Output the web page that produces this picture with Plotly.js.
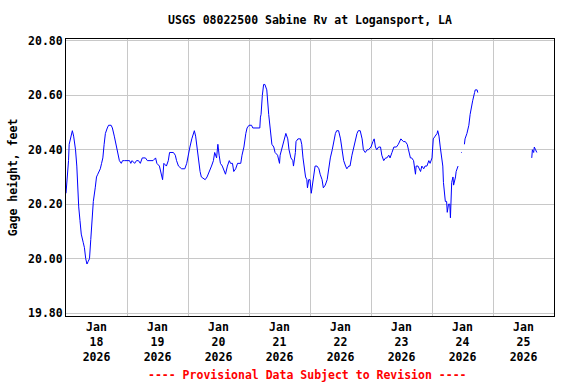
<!DOCTYPE html>
<html>
<head>
<meta charset="utf-8">
<script src="https://cdn.plot.ly/plotly-3.0.1.min.js"></script>
<style>
  html, body { margin: 0; padding: 0; background: #fff; }
  #chart { width: 576px; height: 384px; }
</style>
</head>
<body>
<div id="chart"></div>
<script>
// Start of record: 2026-01-18 00:00 (local)
const startTime = "2026-01-18T00:00:00";

// Hours after start time
const hours = [
  0, 0.5, 1, 1.25, 2, 2.5, 3, 3.75, 4.25, 4.5, 5, 5.5, 6, 6.75, 7.25, 7.75, 8.25, 8.75, 9.25, 9.75,
  10.25, 10.75, 11.5, 12, 12.5, 13, 13.5, 14, 14.5, 15, 15.5, 16.25, 16.75, 17.75, 18.25, 19, 19.75, 20.25, 21, 21.75,
  22.25, 23, 23.75, 25, 25.5, 26, 27, 27.75, 28.5, 29.25, 30, 31.25, 32, 33.25, 34.25, 35.25, 35.75, 36.75, 37.25, 38,
  38.5, 39.5, 40.25, 40.75, 42.25, 43, 43.5, 44.25, 45.5, 46.75, 47.5, 48, 48.75, 49.5, 50, 50.5, 51, 51.5, 52, 52.75,
  53.25, 54.75, 55.5, 56.5, 57.25, 58, 58.5, 59.25, 59.75, 60.25, 60.75, 61.5, 62.25, 62.75, 63.5, 64.25, 64.75, 65.5, 66, 66.75,
  67.5, 68.75, 69.25, 70, 70.75, 71.25, 72, 73, 73.5, 74.25, 75, 76.25, 76.5, 76.75, 77.25, 77.75, 78.25, 78.5, 79, 79.75,
  80.5, 81, 81.75, 82.25, 83.25, 84, 84.25, 85, 86, 86.5, 87.25, 87.75, 88.5, 89.25, 89.5, 90.25, 90.5, 91.25, 92.25, 92.75,
  93.25, 93.75, 94.25, 94.75, 95, 95.5, 96, 96.5, 97, 97.5, 98, 98.75, 99.5, 100, 100.75, 101.25, 102, 102.75, 103.25, 104,
  104.75, 105.25, 106, 106.5, 107.25, 108, 108.5, 109.25, 110, 110.5, 111.25, 111.75, 112.5, 113.25, 113.75, 114.5, 115, 115.75, 116.5, 117,
  117.75, 118.5, 119, 120, 120.75, 121.25, 121.75, 122.25, 123, 123.75, 124.25, 125, 125.75, 126.25, 127, 127.5, 128.25, 129, 130, 130.75,
  131.75, 132.75, 133.5, 134.25, 134.75, 135.5, 136, 136.75, 137.5, 137.75, 138.5, 139.5, 140, 140.75, 141.25, 142, 142.75, 143.25, 144, 144.25,
  144.5, 145.25, 146, 146.25, 146.75, 147.25, 147.75, 148.25, 148.5, 149, 149.25, 149.75, 150, 150.5, 151, 151.25, 151.5, 151.75, 152.25, 152.5,
  153.25, 153.5, 154.25, 154.5, 155.5, 155.75, 156, 156.75, 157, 157.75, 158.5, 159, 159.5, 160, 160.75, 161, 161.75, 162, 162.25,
  183.25, 183.5, 184, 184.25, 184.75, 185.25
];

// Gage height, feet (null = no data)
const gageHeight = [
  20.24, 20.29, 20.36, 20.42, 20.45, 20.47, 20.45, 20.40, 20.34, 20.28, 20.19, 20.14, 20.09, 20.06, 20.04, 20.00, 19.98, 19.99, 20.00, 20.07,
  20.14, 20.21, 20.26, 20.30, 20.31, 20.32, 20.33, 20.35, 20.37, 20.42, 20.46, 20.48, 20.49, 20.49, 20.48, 20.45, 20.42, 20.39, 20.36, 20.35,
  20.36, 20.36, 20.36, 20.36, 20.35, 20.36, 20.35, 20.36, 20.36, 20.35, 20.37, 20.37, 20.36, 20.36, 20.36, 20.37, 20.35, 20.34, 20.32, 20.29,
  20.35, 20.34, 20.36, 20.39, 20.39, 20.38, 20.36, 20.34, 20.33, 20.33, 20.35, 20.38, 20.41, 20.44, 20.46, 20.47, 20.45, 20.41, 20.36, 20.32,
  20.30, 20.29, 20.30, 20.32, 20.34, 20.36, 20.39, 20.37, 20.42, 20.38, 20.35, 20.34, 20.32, 20.31, 20.34, 20.36, 20.35, 20.35, 20.32, 20.33,
  20.35, 20.35, 20.38, 20.41, 20.46, 20.48, 20.49, 20.49, 20.48, 20.48, 20.48, 20.48, 20.52, 20.53, 20.60, 20.64, 20.64, 20.63, 20.62, 20.53,
  20.47, 20.42, 20.41, 20.39, 20.38, 20.35, 20.38, 20.41, 20.44, 20.46, 20.44, 20.40, 20.37, 20.36, 20.34, 20.39, 20.43, 20.44, 20.44, 20.42,
  20.37, 20.33, 20.30, 20.29, 20.26, 20.29, 20.29, 20.24, 20.27, 20.31, 20.34, 20.34, 20.33, 20.31, 20.29, 20.26, 20.27, 20.29, 20.33, 20.37,
  20.40, 20.43, 20.46, 20.47, 20.47, 20.44, 20.40, 20.36, 20.34, 20.33, 20.34, 20.34, 20.38, 20.41, 20.44, 20.46, 20.47, 20.47, 20.44, 20.40,
  20.39, 20.40, 20.40, 20.41, 20.43, 20.44, 20.41, 20.40, 20.41, 20.41, 20.38, 20.36, 20.37, 20.37, 20.38, 20.37, 20.39, 20.41, 20.41, 20.42,
  20.44, 20.43, 20.43, 20.42, 20.40, 20.37, 20.37, 20.36, 20.31, 20.34, 20.34, 20.32, 20.34, 20.33, 20.34, 20.34, 20.36, 20.35, 20.37, 20.40,
  20.44, 20.45, 20.46, 20.47, 20.45, 20.41, 20.38, 20.34, 20.28, 20.22, 20.21, 20.21, 20.17, 20.20, 20.20, 20.15, 20.20, 20.28, 20.30, 20.27,
  20.30, 20.32, 20.34, null, 20.39, 20.39, null, 20.42, 20.44, 20.46, 20.49, 20.53, 20.56, 20.58, 20.61, 20.62, 20.62, 20.61, null,
  20.37, 20.40, 20.39, 20.41, 20.40, 20.39
];

const chartTitle = "USGS 08022500 Sabine Rv at Logansport, LA";
const yTitle = "Gage height, feet";
const footnote = "---- Provisional Data Subject to Revision ----";
const xStart = "2026-01-18 00:00";
const xEnd = "2026-01-26 00:00";

const t0 = new Date(startTime).getTime();
function fmt(ms) {
  const d = new Date(ms);
  const p = n => String(n).padStart(2, "0");
  return d.getFullYear() + "-" + p(d.getMonth() + 1) + "-" + p(d.getDate()) + " " + p(d.getHours()) + ":" + p(d.getMinutes());
}
const times = hours.map(h => fmt(t0 + h * 3600000));

const FONT = "DejaVu Sans Mono, Liberation Mono, monospace";

const trace = {
  x: times,
  y: gageHeight,
  type: "scatter",
  mode: "lines",
  line: { color: "#0000ff", width: 1 },
  connectgaps: false,
  hoverinfo: "skip"
};

const layout = {
  width: 576,
  height: 384,
  margin: { l: 66, r: 22, t: 39, b: 68 },
  paper_bgcolor: "#ffffff",
  plot_bgcolor: "#ffffff",
  showlegend: false,
  font: { family: FONT, size: 11.5, color: "#000000", weight: "bold" },
  title: {
    text: chartTitle,
    font: { family: FONT, size: 11.5, color: "#000000", weight: "bold" },
    xref: "paper", x: 0.5, xanchor: "center",
    yref: "container", y: 1 - 20 / 384, yanchor: "middle"
  },
  xaxis: {
    type: "date",
    range: [xStart, xEnd],
    dtick: 86400000,
    tick0: "2026-01-18 00:00",
    ticklabelmode: "period",
    tickformat: "%b<br>%d<br>%Y",
    ticks: "",
    showgrid: true,
    gridcolor: "#c8c8c8",
    gridwidth: 1,
    showline: true,
    linecolor: "#000000",
    linewidth: 1,
    mirror: true,
    zeroline: false,
    tickfont: { family: FONT, size: 11.5, color: "#000000", weight: "bold" },
    fixedrange: true
  },
  yaxis: {
    range: [19.789, 20.807],
    tick0: 19.8,
    dtick: 0.2,
    tickformat: ".2f",
    ticks: "",
    showgrid: true,
    gridcolor: "#c8c8c8",
    gridwidth: 1,
    showline: true,
    linecolor: "#000000",
    linewidth: 1,
    mirror: true,
    zeroline: false,
    tickfont: { family: FONT, size: 11.5, color: "#000000", weight: "bold" },
    title: {
      text: yTitle,
      font: { family: FONT, size: 11.5, color: "#000000", weight: "bold" },
      standoff: 8
    },
    fixedrange: true
  },
  annotations: [{
    text: footnote,
    xref: "paper", yref: "paper",
    x: 0.495, y: (316 - 375) / 277,
    xanchor: "center", yanchor: "middle",
    showarrow: false,
    font: { family: FONT, size: 11.5, color: "#ff0000", weight: "bold" }
  }]
};

Plotly.newPlot("chart", [trace], layout, { displayModeBar: false, staticPlot: true });
</script>
</body>
</html>
